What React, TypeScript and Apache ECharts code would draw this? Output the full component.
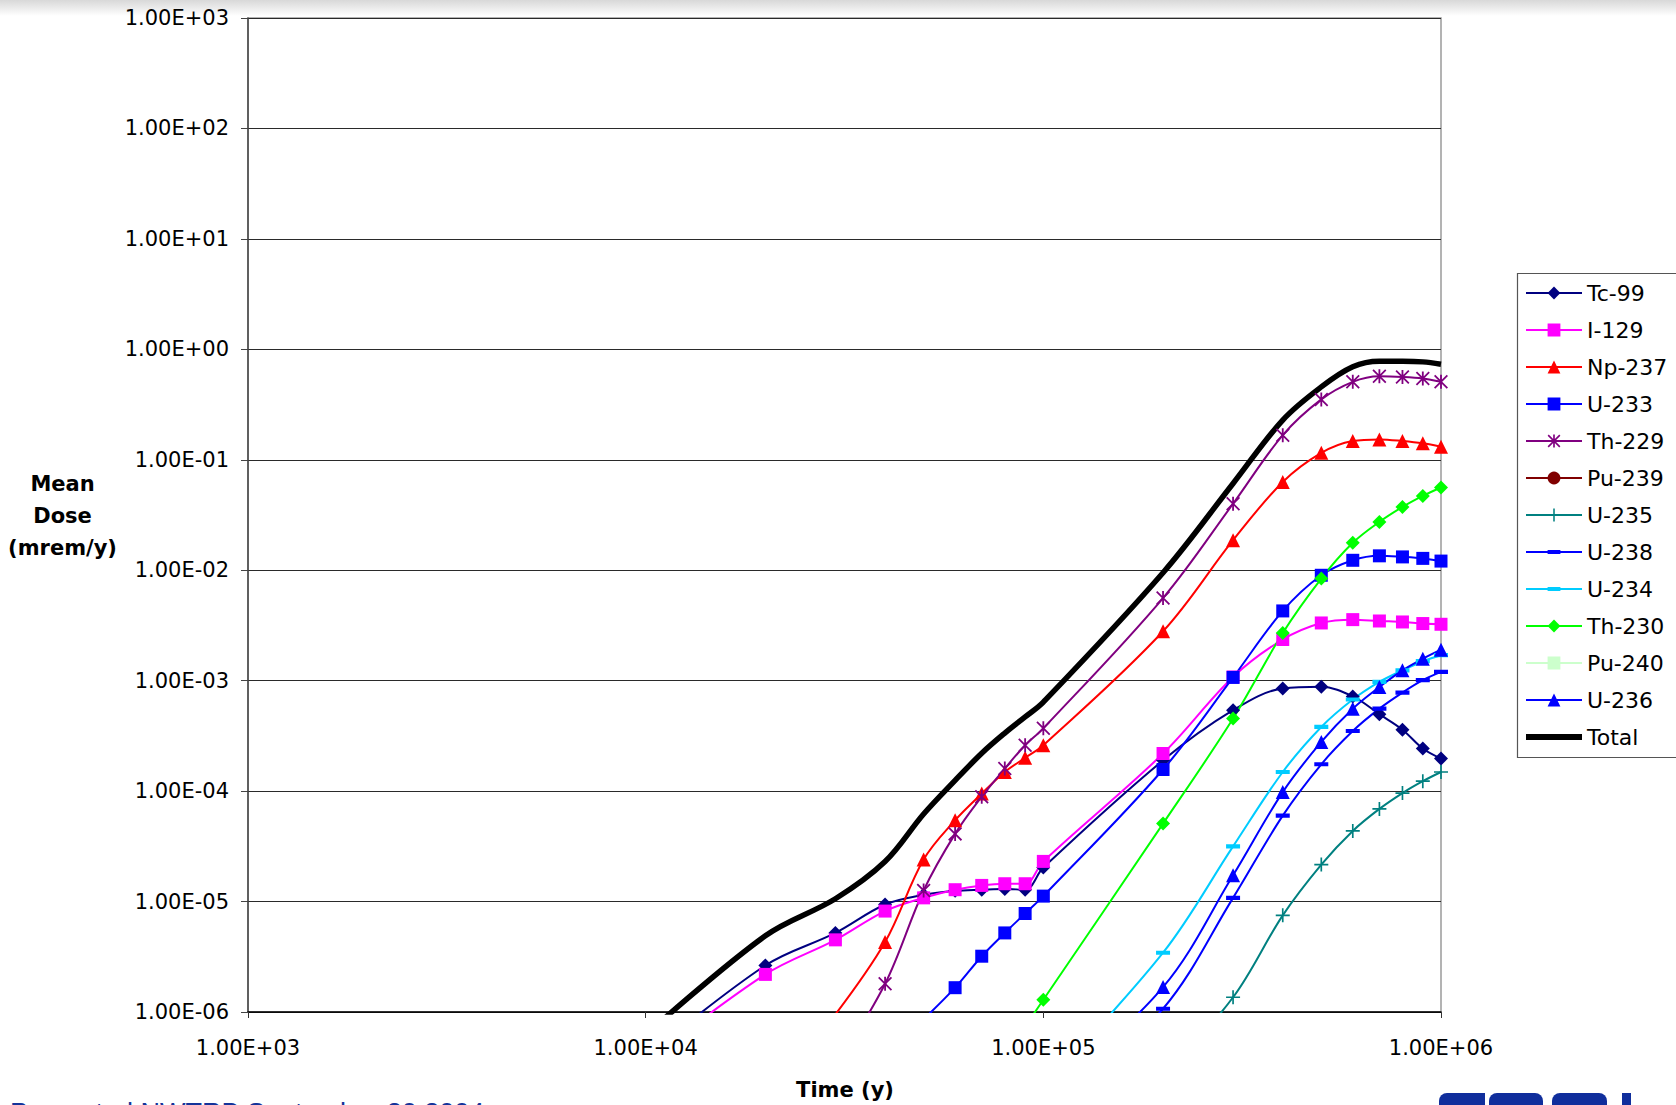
import React, { useEffect, useRef } from "react";
import * as echarts from "echarts";

// Time points (years)
const years = [1e4, 2e4, 3e4, 4e4, 5e4, 6e4, 7e4, 8e4, 9e4, 1e5, 2e5, 3e5, 4e5, 5e5, 6e5, 7e5, 8e5, 9e5, 1e6];

// Mean dose values (mrem/y), null = not plotted
const tc99 = [3.9e-7, 2.64e-6, 5.2e-6, 9.4e-6, 1.15e-5, 1.25e-5, 1.28e-5, 1.3e-5, 1.28e-5, 2.03e-5, 1.9e-4, 5.4e-4, 8.5e-4, 8.8e-4, 7.2e-4, 4.97e-4, 3.6e-4, 2.43e-4, 1.97e-4];
const i129 = [3.5e-7, 2.19e-6, 4.5e-6, 8.2e-6, 1.08e-5, 1.28e-5, 1.4e-5, 1.45e-5, 1.45e-5, 2.31e-5, 2.19e-4, 1.08e-3, 2.36e-3, 3.33e-3, 3.57e-3, 3.47e-3, 3.4e-3, 3.29e-3, 3.24e-3];
const np237 = [null, null, 9.5e-7, 4.3e-6, 2.4e-5, 5.45e-5, 9.5e-5, 1.49e-4, 2.0e-4, 2.6e-4, 2.8e-3, 1.87e-2, 6.3e-2, 0.1156, 0.148, 0.153, 0.148, 0.141, 0.131];
const u233 = [null, null, null, null, 8.6e-7, 1.66e-6, 3.2e-6, 5.2e-6, 7.8e-6, 1.12e-5, 1.57e-4, 1.07e-3, 4.28e-3, 9.0e-3, 1.23e-2, 1.35e-2, 1.32e-2, 1.28e-2, 1.21e-2];
const th229 = [null, null, 3.2e-7, 1.8e-6, 1.26e-5, 4.1e-5, 8.9e-5, 1.6e-4, 2.6e-4, 3.7e-4, 5.6e-3, 4.0e-2, 0.167, 0.352, 0.508, 0.571, 0.563, 0.545, 0.508];
const pu239: (number | null)[] = [];
const u235 = [null, null, null, null, null, null, null, null, null, null, 2.6e-7, 1.36e-6, 7.5e-6, 2.16e-5, 4.36e-5, 6.9e-5, 9.6e-5, 1.23e-4, 1.49e-4];
const u238 = [null, null, null, null, null, null, null, null, null, 1.0e-7, 1.07e-6, 1.08e-5, 6.0e-5, 1.75e-4, 3.5e-4, 5.58e-4, 7.8e-4, 1.01e-3, 1.2e-3];
const u234 = [null, null, null, null, null, null, null, null, null, 2.1e-7, 3.44e-6, 3.16e-5, 1.49e-4, 3.81e-4, 6.75e-4, 9.75e-4, 1.24e-3, 1.5e-3, 1.7e-3];
const th230 = [null, null, null, null, null, null, null, null, 7.4e-7, 1.29e-6, 5.08e-5, 4.54e-4, 2.7e-3, 8.4e-3, 1.77e-2, 2.74e-2, 3.74e-2, 4.71e-2, 5.61e-2];
const pu240: (number | null)[] = [];
const u236 = [null, null, null, null, null, null, null, null, null, 1.6e-7, 1.68e-6, 1.73e-5, 9.8e-5, 2.79e-4, 5.58e-4, 8.77e-4, 1.24e-3, 1.58e-3, 1.91e-3];
const total = [6.2e-7, 4.9e-6, 1.06e-5, 2.3e-5, 6.2e-5, 1.25e-4, 2.2e-4, 3.35e-4, 4.7e-4, 6.4e-4, 9.5e-3, 6.1e-2, 0.229, 0.457, 0.695, 0.78, 0.78, 0.77, 0.734];

// Tick labels
const xTickLabels = ["1.00E+03", "1.00E+04", "1.00E+05", "1.00E+06"];
const yTickLabels = ["1.00E-06", "1.00E-05", "1.00E-04", "1.00E-03", "1.00E-02", "1.00E-01", "1.00E+00", "1.00E+01", "1.00E+02", "1.00E+03"];

const ASTERISK = "path://M8.7 0L11.3 0L11.3 20L8.7 20Z M0 1.8L1.8 0L20 18.2L18.2 20Z M18.2 0L20 1.8L1.8 20L0 18.2Z";
const PLUS = "path://M8.8 0L11.2 0L11.2 8.8L20 8.8L20 11.2L11.2 11.2L11.2 20L8.8 20L8.8 11.2L0 11.2L0 8.8L8.8 8.8Z";
const DASH_LONG = "path://M0 7L20 7L20 13L0 13Z M10 0L10 0Z M10 20L10 20Z";
const DASH_SHORT = "path://M3 7L17 7L17 13L3 13Z M10 0L10 0Z M10 20L10 20Z";
const THICK_BAR = "path://M0 5L56 5L56 11L0 11Z M0 0L0 0Z M0 16L0 16Z";

const seriesDefs = [
  { name: "Tc-99", values: tc99, color: "#000080", symbol: "diamond", size: 14, width: 2 },
  { name: "I-129", values: i129, color: "#FF00FF", symbol: "rect", size: 13, width: 2 },
  { name: "Np-237", values: np237, color: "#FF0000", symbol: "triangle", size: 14, width: 2 },
  { name: "U-233", values: u233, color: "#0000FF", symbol: "rect", size: 13, width: 2 },
  { name: "Th-229", values: th229, color: "#800080", symbol: ASTERISK, size: 14, width: 2 },
  { name: "Pu-239", values: pu239, color: "#800000", symbol: "circle", size: 12, width: 2 },
  { name: "U-235", values: u235, color: "#008080", symbol: PLUS, size: 14, width: 2 },
  { name: "U-238", values: u238, color: "#0000FF", symbol: DASH_SHORT, size: 14, width: 2 },
  { name: "U-234", values: u234, color: "#00CCFF", symbol: DASH_LONG, size: 14, width: 2 },
  { name: "Th-230", values: th230, color: "#00FF00", symbol: "diamond", size: 14, width: 2 },
  { name: "Pu-240", values: pu240, color: "#CCFFCC", symbol: "rect", size: 13, width: 2 },
  { name: "U-236", values: u236, color: "#0000FF", symbol: "triangle", size: 14, width: 2 },
  { name: "Total", values: total, color: "#000000", symbol: "none", size: 0, width: 5.5 },
];

function toPairs(values: (number | null)[]) {
  const out: [number, number][] = [];
  values.forEach((v, i) => {
    if (v != null) out.push([years[i], v]);
  });
  return out;
}

export default function App() {
  const ref = useRef<HTMLDivElement>(null);

  useEffect(() => {
    if (!ref.current) return;
    const chart = echarts.init(ref.current, undefined, { renderer: "svg" });
    const labelFont = "DejaVu Sans";

    const option: any = {
      animation: false,
      backgroundColor: "#ffffff",
      grid: {
        left: 248,
        top: 18,
        right: 235,
        bottom: 93,
        show: true,
        borderColor: "#9a9a9a",
        borderWidth: 1.5,
        backgroundColor: "transparent",
      },
      xAxis: {
        type: "log",
        logBase: 10,
        min: 1e3,
        max: 1e6,
        axisLine: { show: true, lineStyle: { color: "#000", width: 1.5 } },
        axisTick: { show: true, length: 6, lineStyle: { color: "#333" } },
        axisLabel: {
          margin: 25,
          fontFamily: labelFont,
          fontSize: 21,
          color: "#000",
          formatter: (v: number) => xTickLabels[Math.round(Math.log10(v)) - 3],
        },
        splitLine: { show: false },
        minorTick: { show: false },
      },
      yAxis: {
        type: "log",
        logBase: 10,
        min: 1e-6,
        max: 1e3,
        axisLine: { show: true, lineStyle: { color: "#444", width: 1.5 } },
        axisTick: { show: true, length: 7, lineStyle: { color: "#444" } },
        axisLabel: {
          margin: 19,
          fontFamily: labelFont,
          fontSize: 21,
          color: "#000",
          formatter: (v: number) => yTickLabels[Math.round(Math.log10(v)) + 6],
        },
        splitLine: { show: true, lineStyle: { color: "#2a2a2a", width: 1 } },
        minorTick: { show: false },
      },
      legend: {
        orient: "vertical",
        left: 1525,
        top: 281,
        padding: 0,
        itemWidth: 56,
        itemHeight: 16,
        itemGap: 13,
        textStyle: { fontFamily: labelFont, fontSize: 22, color: "#000", lineHeight: 24 },
        data: seriesDefs.map((s) =>
          s.symbol === "none" ? { name: s.name, icon: THICK_BAR } : { name: s.name }
        ),
      },
      series: seriesDefs.map((s) => ({
        name: s.name,
        type: "line",
        data: toPairs(s.values),
        smooth: 0.35,
        clip: true,
        symbol: s.symbol,
        symbolSize: s.size,
        showSymbol: s.symbol !== "none",
        color: s.color,
        itemStyle: { color: s.color },
        lineStyle: { color: s.color, width: s.width },
        emphasis: { disabled: true },
      })),
      graphic: [
        {
          type: "rect",
          shape: { x: 0, y: 0, width: 1676, height: 16 },
          style: {
            fill: new echarts.graphic.LinearGradient(0, 0, 0, 1, [
              { offset: 0, color: "#d8d8d8" },
              { offset: 1, color: "#ffffff" },
            ]),
          },
          silent: true,
        },
        {
          type: "rect",
          shape: { x: 1517.5, y: 273.5, width: 200, height: 484 },
          style: { fill: "none", stroke: "#555", lineWidth: 1.2 },
          silent: true,
        },
        {
          type: "text",
          x: 62.5,
          y: 516,
          style: {
            text: "Mean\nDose\n(mrem/y)",
            fontFamily: labelFont,
            fontWeight: "bold",
            fontSize: 21,
            lineHeight: 32,
            fill: "#000",
            align: "center",
            verticalAlign: "middle",
          },
          silent: true,
        },
        {
          type: "text",
          x: 845,
          y: 1090,
          style: {
            text: "Time (y)",
            fontFamily: labelFont,
            fontWeight: "bold",
            fontSize: 21,
            fill: "#000",
            align: "center",
            verticalAlign: "middle",
          },
          silent: true,
        },
        {
          type: "text",
          x: 10,
          y: 1099,
          style: {
            text: "Presented NWTRB September 20 2004",
            fontFamily: "Liberation Sans",
            fontSize: 27,
            fill: "#14339a",
            align: "left",
            verticalAlign: "top",
          },
          silent: true,
        },
        { type: "rect", shape: { x: 1439, y: 1093, width: 46, height: 24, r: [8, 0, 0, 0] }, style: { fill: "#102e9c" }, silent: true },
        { type: "rect", shape: { x: 1489, y: 1093, width: 54, height: 24, r: [8, 8, 0, 0] }, style: { fill: "#102e9c" }, silent: true },
        { type: "rect", shape: { x: 1552, y: 1093, width: 55, height: 24, r: [8, 8, 0, 0] }, style: { fill: "#102e9c" }, silent: true },
        { type: "rect", shape: { x: 1622, y: 1093, width: 9, height: 24 }, style: { fill: "#102e9c" }, silent: true },
      ],
    };

    chart.setOption(option);
    return () => chart.dispose();
  }, []);

  return (
    <div
      ref={ref}
      style={{ position: "absolute", left: 0, top: 0, width: 1676, height: 1105 }}
    />
  );
}
